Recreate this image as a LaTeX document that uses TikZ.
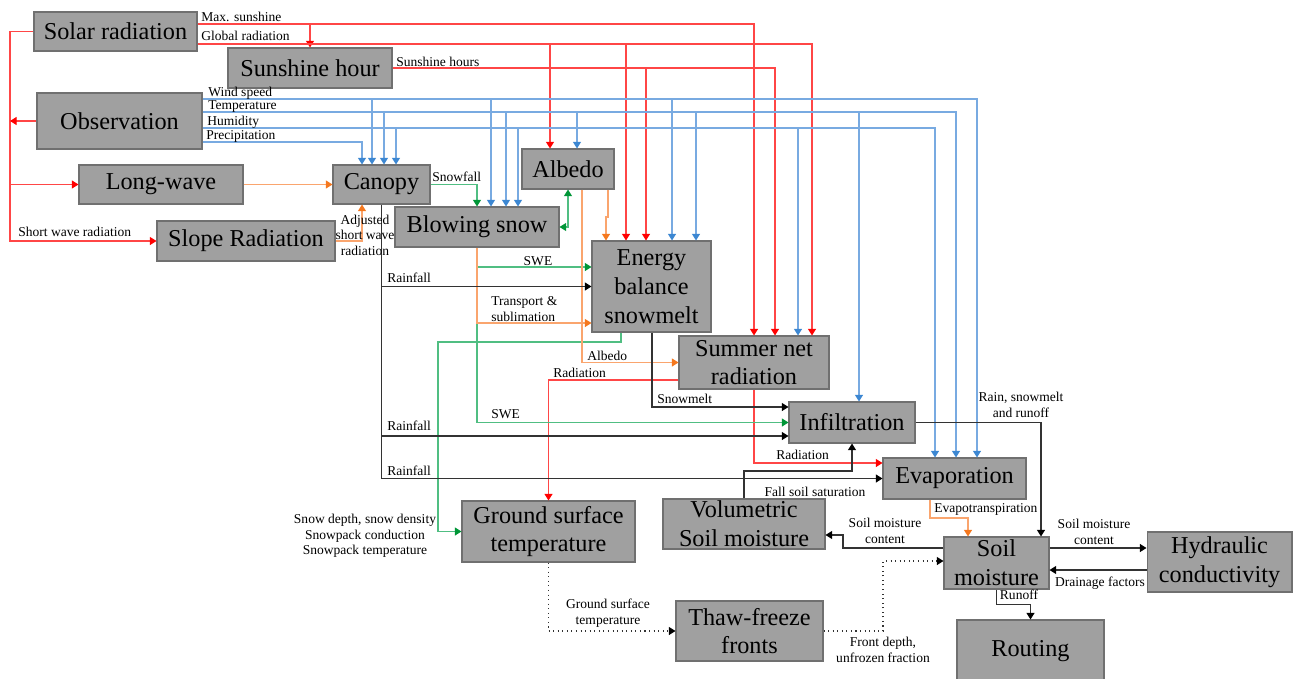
\documentclass[tikz,border=0pt]{standalone}
\usepackage{fontspec}
\setmainfont{Liberation Serif}
\usetikzlibrary{arrows.meta, calc}

\definecolor{boxfill}{RGB}{160,160,160}
\definecolor{boxedge}{RGB}{112,112,112}
\definecolor{linered}{RGB}{255,70,70}
\definecolor{lineblue}{RGB}{120,170,225}
\definecolor{tipblue}{RGB}{60,135,210}
\definecolor{lineorange}{RGB}{250,165,110}
\definecolor{tiporange}{RGB}{245,120,30}
\definecolor{linegreen}{RGB}{80,190,130}
\definecolor{tipgreen}{RGB}{0,150,55}

\newcommand{\boxfont}{\fontsize{13.8pt}{16.4pt}\selectfont}
\newcommand{\lblfont}{\fontsize{7.7pt}{8.8pt}\selectfont}

\tikzset{
  blk/.style={draw=boxedge, fill=boxfill, line width=0.6pt, inner sep=0pt, align=center, font=\boxfont},
  lbl/.style={inner sep=0pt, font=\lblfont, align=center},
  rd/.style={draw=linered, line width=0.6pt, -{Triangle[width=4.6pt,length=3.8pt,color=red]}},
  bl/.style={draw=lineblue, line width=0.6pt, -{Triangle[width=4.6pt,length=3.8pt,color=tipblue]}},
  og/.style={draw=lineorange, line width=0.6pt, -{Triangle[width=4.6pt,length=3.8pt,color=tiporange]}},
  gn/.style={draw=linegreen, line width=0.6pt, -{Triangle[width=4.6pt,length=3.8pt,color=tipgreen]}},
  bk/.style={draw=black!80, line width=0.6pt, -{Triangle[width=4.6pt,length=3.8pt,color=black]}},
}

\begin{document}
\begin{tikzpicture}[x=0.02cm, y=-0.02cm]
\useasboundingbox (0,0) rectangle (1295,679);

% boxes
\node[blk, minimum width=3.26cm, minimum height=0.78cm] (solar) at (115.5,31.5) {Solar radiation};
\node[blk, minimum width=3.28cm, minimum height=0.80cm] (sunh) at (310,68) {Sunshine hour};
\node[blk, minimum width=3.30cm, minimum height=1.12cm] (obs) at (119.5,121) {Observation};
\node[blk, minimum width=3.28cm, minimum height=0.78cm] (lw) at (161,184.5) {Long-wave};
\node[blk, minimum width=3.56cm, minimum height=0.80cm] (slope) at (246,241) {Slope Radiation};
\node[blk, minimum width=1.94cm, minimum height=0.78cm] (canopy) at (381.5,184.5) {Canopy};
\node[blk, minimum width=3.28cm, minimum height=0.80cm] (blow) at (477,227) {Blowing snow};
\node[blk, minimum width=1.84cm, minimum height=0.80cm] (albedo) at (568,169) {Albedo};
\node[blk, minimum width=2.38cm, minimum height=1.82cm] (eb) at (651.5,286.5) {Energy\\balance\\snowmelt};
\node[blk, minimum width=3.00cm, minimum height=1.06cm] (summer) at (754,362.5) {Summer net\\radiation};
\node[blk, minimum width=2.52cm, minimum height=0.82cm] (infil) at (852,422.5) {Infiltration};
\node[blk, minimum width=2.86cm, minimum height=0.82cm] (evap) at (954.5,478.5) {Evaporation};
\node[blk, minimum width=3.24cm, minimum height=1.00cm] (vol) at (744,524) {Volumetric\\Soil moisture};
\node[blk, minimum width=3.46cm, minimum height=1.22cm] (gst) at (548.5,531.5) {Ground surface\\temperature};
\node[blk, minimum width=2.10cm, minimum height=1.04cm] (soil) at (996.5,563) {Soil\\moisture};
\node[blk, minimum width=2.90cm, minimum height=1.20cm] (hyd) at (1219.5,562) {Hydraulic\\conductivity};
\node[blk, minimum width=2.94cm, minimum height=1.20cm] (thaw) at (749.5,631) {Thaw-freeze\\fronts};
\node[blk, minimum width=2.94cm, minimum height=1.24cm] (routing) at (1030.5,651) {Routing};

\coordinate (trunk) at (10,0);

% solar radiation
\draw[rd] (solar.west) -| (trunk |- slope.west) -- (slope.west);
\draw[rd] (trunk |- lw.west) -- (lw.west);
\draw[rd] (obs.west) -- (trunk |- obs.west);
\draw[rd] (solar.east |- 0,24) -| (summer.north -| 754,0);
\draw[rd] (sunh.north |- 0,24) -- (sunh.north);
\draw[rd] (solar.east |- 0,44) -| (summer.north -| 812,0);
\draw[rd] (550,44) -- (albedo.north -| 550,0);
\draw[rd] (626,44) -- (eb.north -| 626,0);
\draw[rd] (sunh.east) -| (summer.north -| 775,0);
\draw[rd] (646,0 |- sunh.east) -- (eb.north -| 646,0);
\draw[rd] (summer.west |- 0,380) -| (gst.north);
\draw[rd] (summer.south) |- (evap.west |- 0,463);

% observation
\draw[bl] (obs.east |- 0,99) -| (evap.north -| 977,0);
\foreach \x/\n in {372/canopy, 491/blow, 672/eb}
  \draw[bl] (\x,99) -- (\n.north -| \x,0);
\draw[bl] (obs.east |- 0,112) -| (evap.north -| 956,0);
\foreach \x/\n in {384/canopy, 506/blow, 577/albedo, 696/eb, 859/infil}
  \draw[bl] (\x,112) -- (\n.north -| \x,0);
\draw[bl] (obs.east |- 0,128) -| (evap.north -| 935,0);
\foreach \x/\n in {396/canopy, 518/blow, 798/summer}
  \draw[bl] (\x,128) -- (\n.north -| \x,0);
\draw[bl] (obs.east |- 0,142) -| (canopy.north -| 362,0);

% snow
\draw[gn] (canopy.east) -| (blow.north);
\draw[gn, {Triangle[width=4.6pt,length=3.8pt,color=tipgreen]}-{Triangle[width=4.6pt,length=3.8pt,color=tipgreen]}] (albedo.south) |- (blow.east);
\draw[gn] (blow.south |- 0,267) -- (eb.west |- 0,267);
\draw[gn] (blow.south |- 0,323) |- (infil.west);
\draw[gn] (eb.south -| 621,0) -- (621,342) -| (438,0 |- gst.west) -- (gst.west);
\draw[og] (blow.south) |- (eb.west |- 0,323);
\draw[og] (lw.east) -- (canopy.west);
\draw[og] (slope.east) -| (canopy.south -| 362,0);
\draw[og] (albedo.south -| 608,0) -- (608,217) -- (606,217) -- (eb.north -| 606,0);
\draw[og] (albedo.south -| 582,0) |- (summer.west);
\draw[og] (evap.south -| 930,0) -- (930,518) -| (soil.north -| 968,0);

% water
\draw[bk] (canopy.south) |- (evap.west);
\draw[bk] (canopy.south |- eb.west) -- (eb.west);
\draw[bk] (canopy.south |- 0,436) -- (infil.west |- 0,436);
\draw[bk] (eb.south -| 652,0) |- (infil.west |- 0,407);
\draw[bk] (infil.east) -| (soil.north -| 1041,0);
\draw[bk] (vol.north) -- (744,471) -| (infil.south);
\draw[bk] (soil.west |- 0,548) -- (843,548) |- (vol.east |- 0,535);
\draw[bk] (soil.east |- 0,548) -- (hyd.west |- 0,548);
\draw[bk] (hyd.west |- 0,570) -- (soil.east |- 0,570);
\draw[bk] (soil.south) -- ++(0,15) -| (routing.north);
\draw[bk, dotted] (gst.south) |- (thaw.west);
\draw[bk, dotted] (thaw.east) -- (883,0 |- thaw.east) |- (soil.west |- 0,561);

% labels
\node[lbl, anchor=west] (lmax) at (201,17) {Max. sunshine};
\node[lbl, anchor=west] (lglob) at (201,36) {Global radiation};
\node[lbl, anchor=west] (lsunh) at (396,62) {Sunshine hours};
\node[lbl, anchor=west] (lwind) at (208,93) {Wind speed};
\node[lbl, anchor=west] (ltemp) at (208,107) {Temperature};
\node[lbl, anchor=west] (lhum) at (207,122) {Humidity};
\node[lbl, anchor=west] (lprec) at (206,136) {Precipitation};
\node[lbl, anchor=west] (lshort) at (18,232) {Short wave radiation};
\node[lbl] (ladj) at (365,235) {Adjusted\\short wave\\radiation};
\node[lbl, anchor=west] (lsnowf) at (432,177) {Snowfall};
\node[lbl] (lswe1) at (538,261) {SWE};
\node[lbl, anchor=west] (lrain1) at (387,278) {Rainfall};
\node[lbl, anchor=west, align=left] (ltrans) at (491,309) {Transport \&\\sublimation};
\node[lbl, anchor=west] (lalb) at (587,356) {Albedo};
\node[lbl, anchor=west] (lrad1) at (553,373) {Radiation};
\node[lbl, anchor=west] (lmelt) at (657,399) {Snowmelt};
\node[lbl, anchor=west] (lswe2) at (491,414) {SWE};
\node[lbl, anchor=west] (lrain2) at (387,426) {Rainfall};
\node[lbl, anchor=west] (lrain3) at (387,471) {Rainfall};
\node[lbl, anchor=west] (lrad2) at (776,455) {Radiation};
\node[lbl] (lrunin) at (1021,405) {Rain, snowmelt\\and runoff};
\node[lbl] (lfall) at (815,492) {Fall soil saturation};
\node[lbl, anchor=west] (let) at (934,509) {Evapotranspiration};
\node[lbl] (lsmc1) at (885,531) {Soil moisture\\content};
\node[lbl] (lsmc2) at (1094,532) {Soil moisture\\content};
\node[lbl] (ldrain) at (1100,583) {Drainage factors};
\node[lbl] (lrunoff) at (1019,595) {Runoff};
\node[lbl] (lfront) at (883,650) {Front depth,\\unfrozen fraction};
\node[lbl] (lgst) at (608,613) {Ground surface\\temperature};
\node[lbl] (lsnowd) at (365,536) {Snow depth, snow density\\Snowpack conduction\\Snowpack temperature};
\end{tikzpicture}
\end{document}
